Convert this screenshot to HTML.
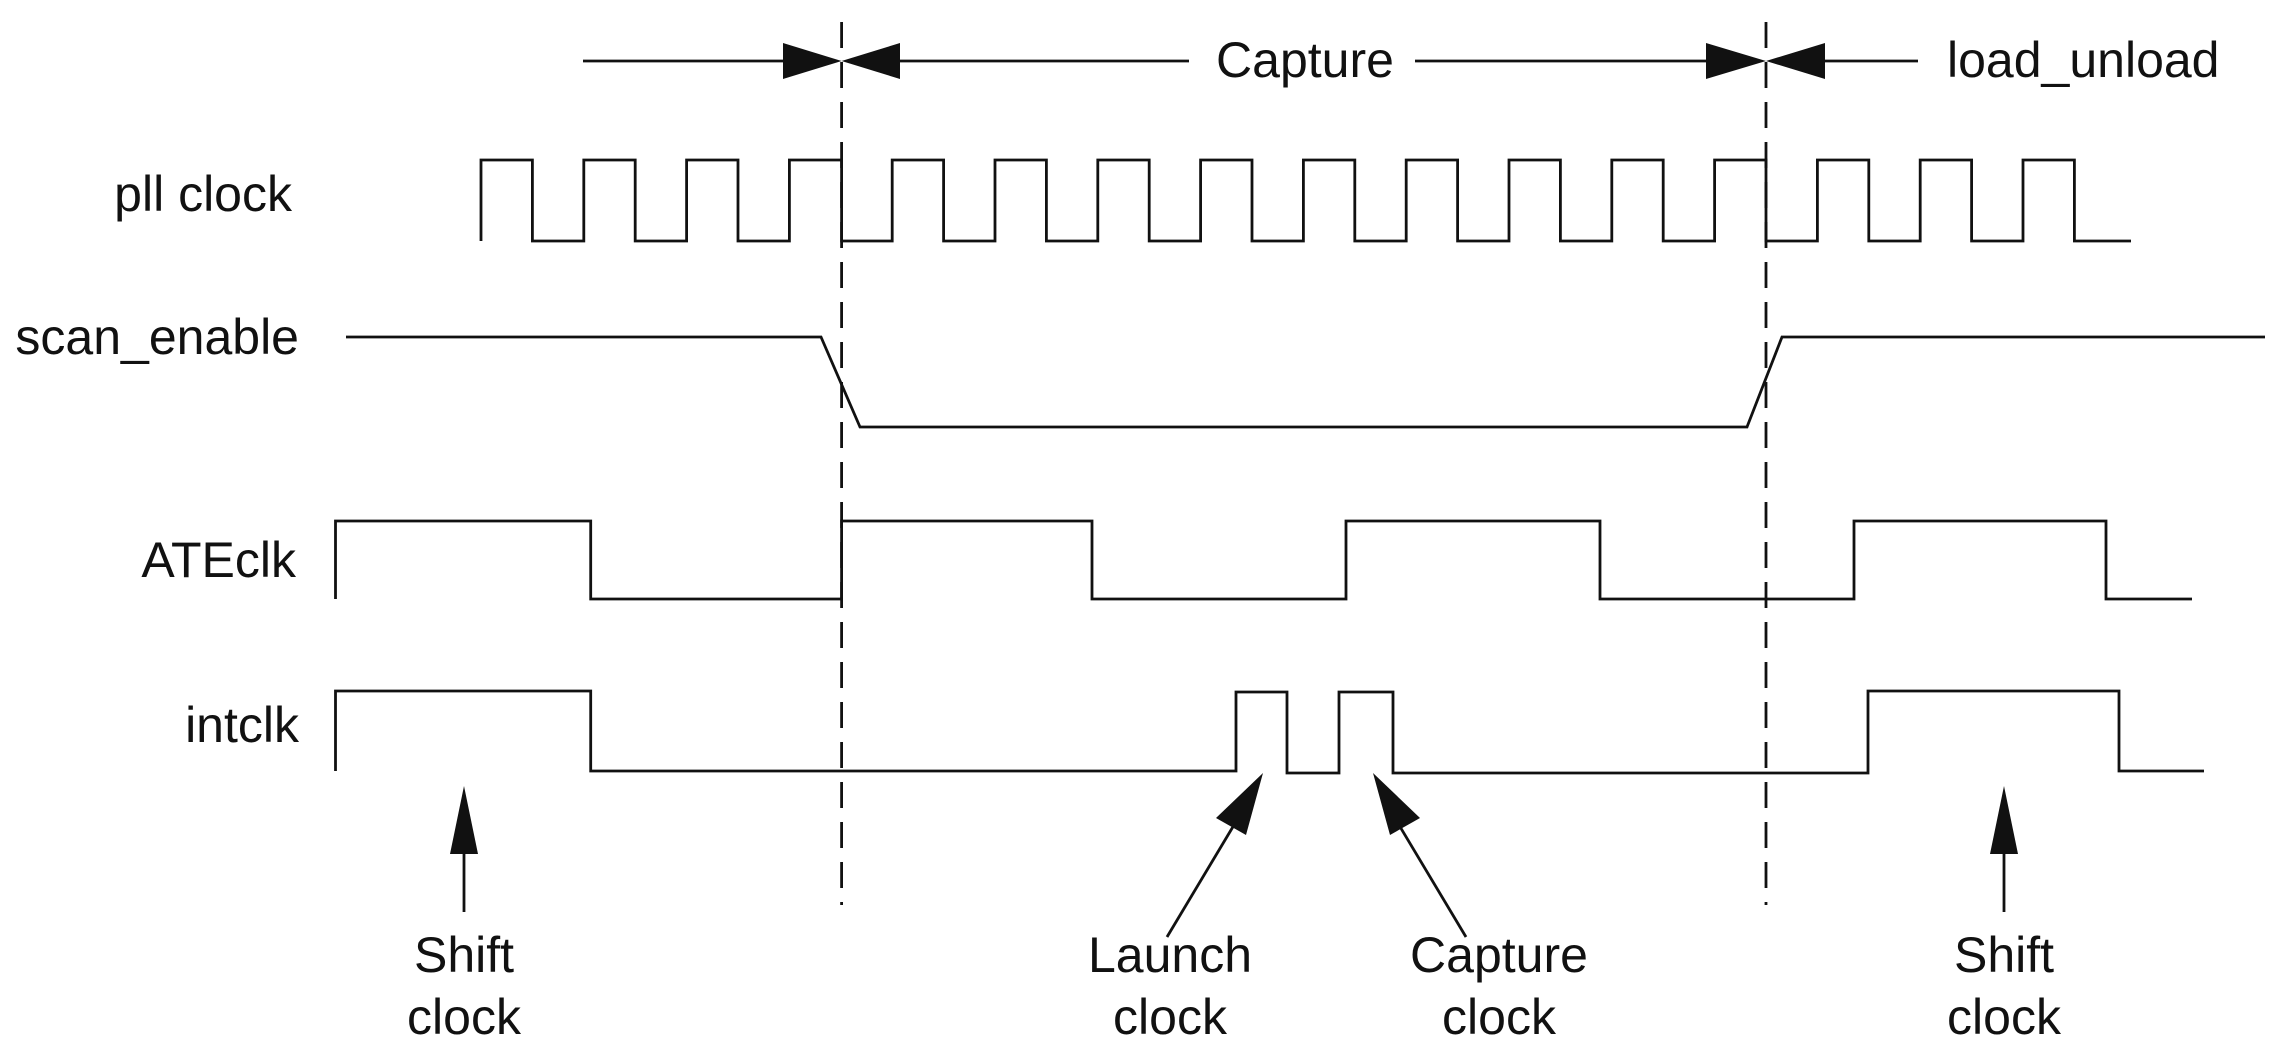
<!DOCTYPE html>
<html><head><meta charset="utf-8"><style>
html,body{margin:0;padding:0;background:#fff;}
svg{display:block;}
text{font-family:"Liberation Sans",Arial,sans-serif;font-size:50px;fill:#111;}
</style></head><body>
<svg width="2287" height="1054" viewBox="0 0 2287 1054" xmlns="http://www.w3.org/2000/svg">
<g stroke="#111" stroke-width="2.8" fill="none">
<line x1="841.6" y1="22" x2="841.6" y2="905" stroke-dasharray="26,14"/>
<line x1="1766" y1="22" x2="1766" y2="905" stroke-dasharray="26,14"/>
<line x1="583" y1="61" x2="790" y2="61"/>
<line x1="895" y1="61" x2="1189" y2="61"/>
<line x1="1415" y1="61" x2="1708" y2="61"/>
<line x1="1820" y1="61" x2="1918" y2="61"/>
<path d="M481,241 V160 H532.4 V241 H583.8 V160 H635.2 V241 H686.6 V160 H738 V241 H789.4 V160 H841.6 V241 H892.2 V160 H943.6 V241 H995 V160 H1046.4 V241 H1097.8 V160 H1149.2 V241 H1200.6 V160 H1252 V241 H1303.4 V160 H1354.8 V241 H1406.2 V160 H1457.6 V241 H1509 V160 H1560.4 V241 H1611.8 V160 H1663.2 V241 H1714.6 V160 H1766 V241 H1817.4 V160 H1868.8 V241 H1920.2 V160 H1971.6 V241 H2023 V160 H2074.4 V241 H2131"/>
<path d="M346,337 H821 L860,427 H1747 L1782,337 H2265"/>
<path d="M335.5,599 V521 H590.7 V599 H841.6 V521 H1092 V599 H1346 V521 H1600 V599 H1854 V521 H2106 V599 H2192"/>
<path d="M335.5,771 V691 H590.7 V771 H1236 V692 H1287 V773 H1339 V692 H1393 V773 H1868 V691 H2119 V771 H2204"/>
<line x1="464" y1="850" x2="464" y2="912"/>
<line x1="2004" y1="850" x2="2004" y2="912"/>
<line x1="1240" y1="815" x2="1167" y2="937"/>
<line x1="1393" y1="815" x2="1466" y2="937"/>
</g>
<g fill="#111">
<polygon points="841.6,61 783,43 783,79"/>
<polygon points="841.6,61 900,43 900,79"/>
<polygon points="1766,61 1706,43 1706,79"/>
<polygon points="1766,61 1825,43 1825,79"/>
<polygon points="464,786 450,854 478,854"/>
<polygon points="2004,786 1990,854 2018,854"/>
<polygon points="1263,773 1216,818 1246,835"/>
<polygon points="1373,773 1390,835 1420,818"/>
</g>
<text x="1305" y="77" text-anchor="middle">Capture</text>
<text x="1947" y="77">load_unload</text>
<text x="292" y="211" text-anchor="end">pll clock</text>
<text x="299" y="354" text-anchor="end">scan_enable</text>
<text x="296" y="577" text-anchor="end">ATEclk</text>
<text x="299" y="742" text-anchor="end">intclk</text>
<text x="464" y="972" text-anchor="middle">Shift</text>
<text x="464" y="1034" text-anchor="middle">clock</text>
<text x="1170" y="972" text-anchor="middle">Launch</text>
<text x="1170" y="1034" text-anchor="middle">clock</text>
<text x="1499" y="972" text-anchor="middle">Capture</text>
<text x="1499" y="1034" text-anchor="middle">clock</text>
<text x="2004" y="972" text-anchor="middle">Shift</text>
<text x="2004" y="1034" text-anchor="middle">clock</text>
</svg>
</body></html>
